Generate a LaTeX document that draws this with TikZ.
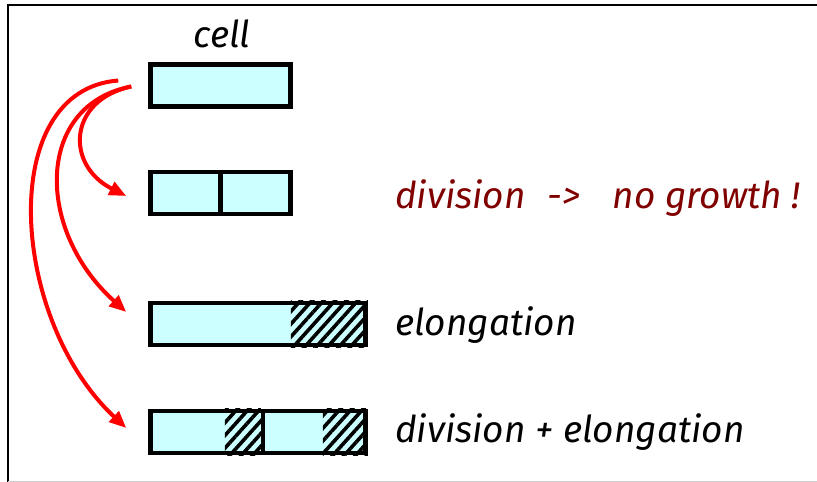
\documentclass[tikz,border=0pt]{standalone}
\usepackage{fontspec}
\setmainfont{Fira Sans}
\usetikzlibrary{arrows.meta,patterns.meta,calc}
\definecolor{celeste}{HTML}{CCFFFF}
\definecolor{granate}{HTML}{800000}
\tikzset{
  caja/.style={draw,line width=4.5pt,fill=celeste,minimum height=42pt,inner sep=0pt},
  rayas/.style={pattern={Lines[angle=48,distance=8.5pt,line width=3.6pt]}},
  flecha/.style={red,line width=4pt,-{Triangle[length=17pt,width=14pt]}},
  texto/.style={font=\fontsize{37}{44}\selectfont\itshape,inner sep=0pt,anchor=base west}
}
\begin{document}
\begin{tikzpicture}[x=1pt,y=-1pt]
\useasboundingbox (0,0) rectangle (817,482);
% Marco
\draw[line width=2pt] (817,5) -- (8,5) -- (8,482);
\draw[gray!40] (8,481) -- (817,481);
% Celula
\node[caja,minimum width=140pt] (cell) at (220.5,85.5) {};
\node[texto,anchor=base] (lcell) at (222,47) {cell};
% Division
\node[caja,minimum width=140pt] (div) at (220.5,193) {};
\draw[line width=4.5pt] (div.north) -- (div.south);
\node[texto,text=granate] (ldiv) at (395,208) {division\hspace{22pt}->\hspace{32pt}no growth !};
% Elongacion
\node[caja,minimum width=215pt] (grow) at (258,324) {};
\path[rayas] ([xshift=142.5pt]grow.north west) rectangle (grow.south east);
\node[texto] (lgrow) at (395,335) {elongation};
% Division + elongacion
\node[caja,minimum width=215pt] (both) at (258,432) {};
\path[rayas] ([xshift=76.5pt]both.north west) rectangle ([xshift=112.5pt]both.south west);
\path[rayas] ([xshift=174.5pt]both.north west) rectangle (both.south east);
\draw[line width=4.5pt] ([xshift=114.5pt]both.north west) -- ([xshift=114.5pt]both.south west);
\node[texto] (lboth) at (395,442) {division + elongation};
% Flechas
\coordinate (src) at ($(cell.west)+(-17,1)$);
\coordinate (srcb) at ($(cell.west)+(-30,-5)$);
\draw[flecha] (src) .. controls (68,100) and (65,165) .. ($(div.west)+(-22,3)$);
\draw[flecha] (src) .. controls (35,105) and (35,230) .. ($(grow.west)+(-22,-12)$);
\draw[flecha] (srcb) .. controls (-5,90) and (10,320) .. ($(both.west)+(-22,-4)$);
\end{tikzpicture}
\end{document}
